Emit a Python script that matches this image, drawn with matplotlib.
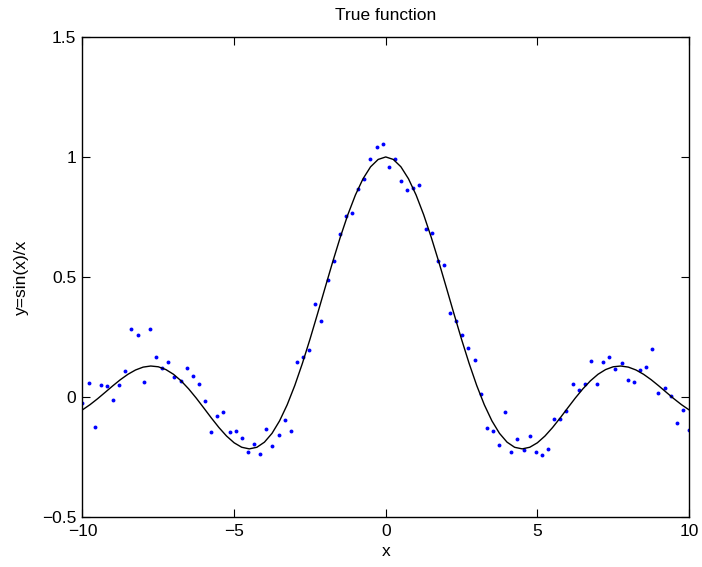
import numpy as np
import matplotlib
matplotlib.use("Agg")
import matplotlib.pyplot as plt

plt.rcParams['font.family'] = ['Liberation Sans', 'DejaVu Sans']

# Noisy samples (100 points, evenly spaced from -10 to 10)
sample_y = [
    -0.025, 0.057, -0.128, 0.049, 0.043, -0.015, 0.049, 0.107, 0.283, 0.257,
    0.060, 0.282, 0.165, 0.120, 0.146, 0.083, 0.067, 0.120, 0.086, 0.054,
    -0.017, -0.146, -0.080, -0.065, -0.148, -0.142, -0.172, -0.230, -0.197, -0.239,
    -0.135, -0.204, -0.160, -0.095, -0.142, 0.146, 0.165, 0.193, 0.385, 0.318,
    0.486, 0.565, 0.677, 0.753, 0.765, 0.867, 0.910, 0.990, 1.040, 1.054,
    0.956, 0.990, 0.899, 0.864, 0.870, 0.885, 0.699, 0.681, 0.567, 0.548,
    0.350, 0.317, 0.258, 0.204, 0.152, 0.010, -0.129, -0.143, -0.200, -0.063,
    -0.232, -0.175, -0.223, -0.164, -0.232, -0.242, -0.218, -0.093, -0.093, -0.061,
    0.054, 0.029, 0.054, 0.150, 0.053, 0.145, 0.164, 0.117, 0.142, 0.068,
    0.061, 0.110, 0.125, 0.199, 0.017, 0.036, 0.002, -0.111, -0.055, -0.140,
]
sample_x = np.linspace(-10, 10, len(sample_y))

# True function curve values, x from -10 to 10 in steps of 0.25
curve_y = [
    -0.0544, -0.0327, -0.0079, 0.0188, 0.0458, 0.0714, 0.0939, 0.1118, 0.1237, 0.1283,
    0.1251, 0.1135, 0.0939, 0.0667, 0.0331, -0.0053, -0.0466, -0.0884, -0.1283, -0.1636,
    -0.1918, -0.2104, -0.2172, -0.2106, -0.1892, -0.1524, -0.1002, -0.0333, 0.0470, 0.1388,
    0.2394, 0.3458, 0.4546, 0.5623, 0.6650, 0.7592, 0.8415, 0.9089, 0.9589, 0.9896,
    1.0000,
    0.9896, 0.9589, 0.9089, 0.8415, 0.7592, 0.6650, 0.5623, 0.4546, 0.3458, 0.2394,
    0.1388, 0.0470, -0.0333, -0.1002, -0.1524, -0.1892, -0.2106, -0.2172, -0.2104, -0.1918,
    -0.1636, -0.1283, -0.0884, -0.0466, -0.0053, 0.0331, 0.0667, 0.0939, 0.1135, 0.1251,
    0.1283, 0.1237, 0.1118, 0.0939, 0.0714, 0.0458, 0.0188, -0.0079, -0.0327, -0.0544,
]
curve_x = np.linspace(-10, 10, len(curve_y))

x_ticks = [-10, -5, 0, 5, 10]
x_tick_labels = ['\u221210', '\u22125', '0', '5', '10']
y_ticks = [-0.5, 0, 0.5, 1, 1.5]
y_tick_labels = ['\u22120.5', '0', '0.5', '1', '1.5']

fig = plt.figure(figsize=(7.02, 5.67), dpi=100)
ax = fig.add_axes([0.1175, 0.0887, 0.864, 0.846])

ax.plot(sample_x, sample_y, 'o', color=(0, 0, 1), markersize=2.8, markeredgewidth=0)
ax.plot(curve_x, curve_y, '-', color='black', linewidth=1.0)

ax.set_xlim(-10, 10)
ax.set_ylim(-0.5, 1.5)
ax.set_xticks(x_ticks)
ax.set_xticklabels(x_tick_labels)
ax.set_yticks(y_ticks)
ax.set_yticklabels(y_tick_labels)
ax.tick_params(direction='in', length=6, width=0.8, top=True, right=True,
               labelsize=12.5)
ax.tick_params(axis='x', pad=5.5)
ax.tick_params(axis='y', pad=4.5)
for s in ax.spines.values():
    s.set_linewidth(1.0)

ax.set_title('True function', fontsize=12.5, pad=12.5)
ax.set_xlabel('x', fontsize=12.5, labelpad=3.5)
ax.set_ylabel('y=sin(x)/x', fontsize=12.5, labelpad=9)

fig.savefig('out.png', dpi=100)
